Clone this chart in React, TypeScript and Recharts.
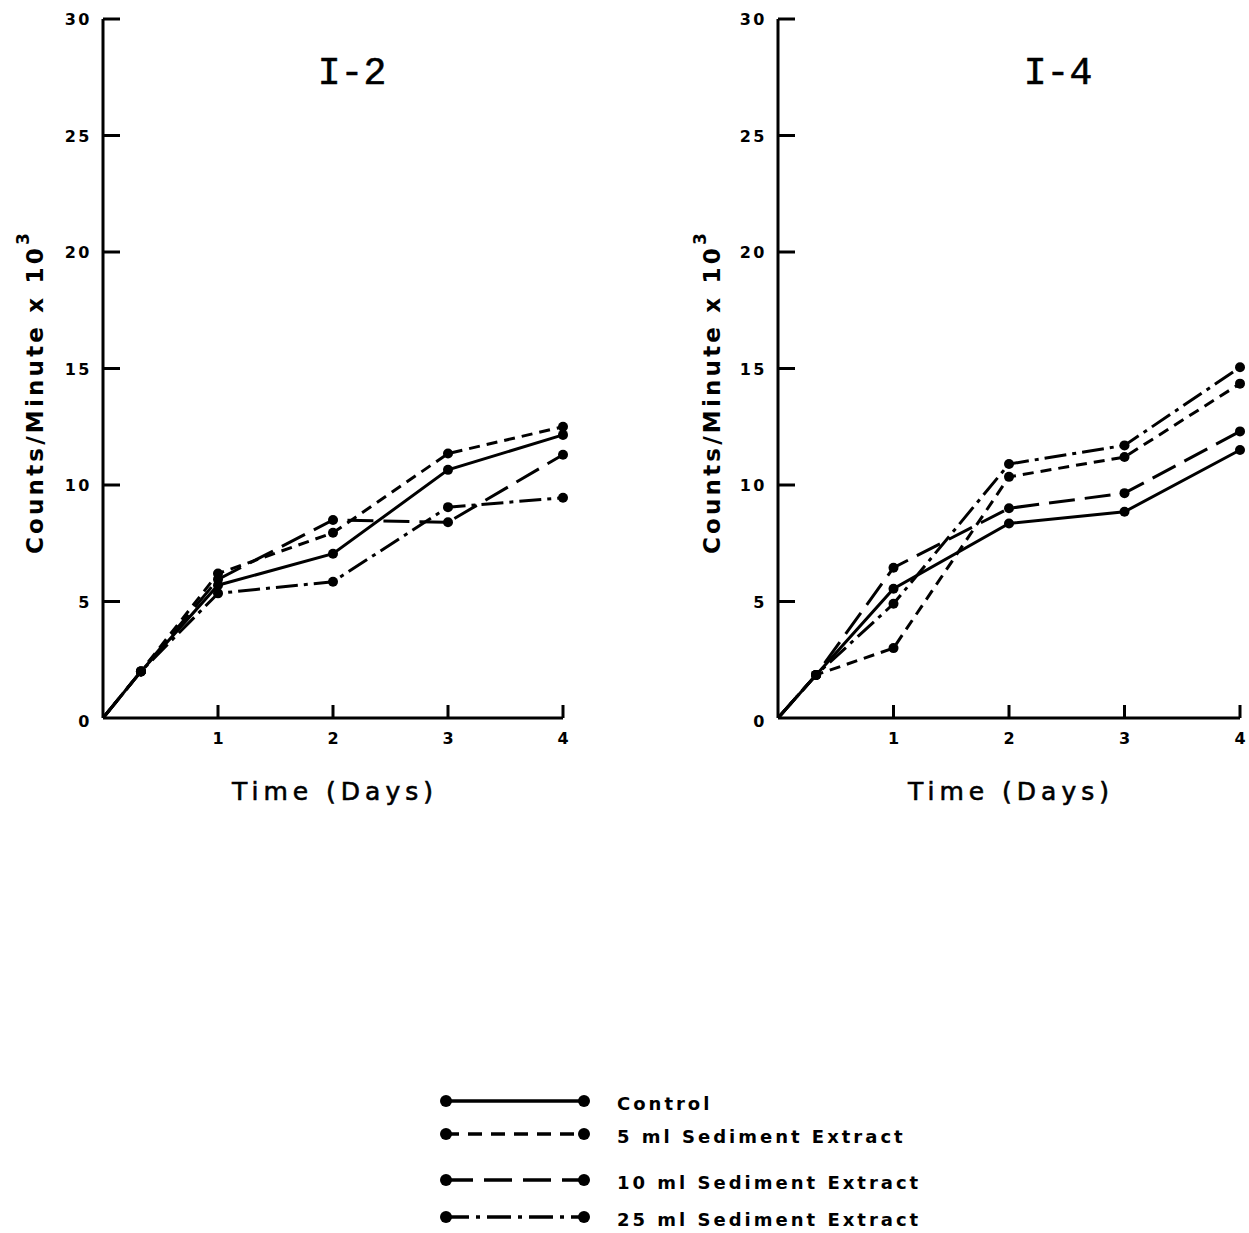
import React from 'react';
import { LineChart, Line, XAxis, YAxis } from 'recharts';

// time points (days); first is the origin, drawn without a marker
const days = [0, 0.33, 1, 2, 3, 4];
const dayTicks = [1, 2, 3, 4];
const countTicks = [0, 5, 10, 15, 20, 25, 30];

// I-2 (counts/minute x 10^3)
const i2Control = [0, 2.0, 5.7, 7.05, 10.65, 12.15];
const i2Sed5 = [0, 2.0, 6.2, 7.95, 11.35, 12.5];
const i2Sed10 = [0, 2.0, 5.95, 8.5, 8.4, 11.3];
const i2Sed25 = [0, 2.0, 5.35, 5.85, 9.05, 9.45];

// I-4
const i4Control = [0, 1.85, 5.55, 8.35, 8.85, 11.5];
const i4Sed5 = [0, 1.85, 3.0, 10.35, 11.2, 14.35];
const i4Sed10 = [0, 1.85, 6.45, 9.0, 9.65, 12.3];
const i4Sed25 = [0, 1.85, 4.9, 10.9, 11.7, 15.05];

const seriesNames = ['Control', '5 ml Sediment Extract', '10 ml Sediment Extract', '25 ml Sediment Extract'];
const seriesKeys = ['control', 'sed5', 'sed10', 'sed25'];
const seriesDash = [undefined, '11 7', '26 10', '22 6 4 6'];

const FONT = '"DejaVu Sans", sans-serif';

const buildRows = (control: number[], sed5: number[], sed10: number[], sed25: number[]) =>
  days.map((d, i) => ({ day: d, control: control[i], sed5: sed5[i], sed10: sed10[i], sed25: sed25[i] }));

const i2Rows = buildRows(i2Control, i2Sed5, i2Sed10, i2Sed25);
const i4Rows = buildRows(i4Control, i4Sed5, i4Sed10, i4Sed25);

const renderDot = (props: any) => {
  const { cx, cy, index } = props;
  if (index === 0) return <g key={`d-${index}`} />;
  return <circle key={`d-${index}`} cx={cx} cy={cy} r={5} fill="#000" />;
};

const YTick = (props: any) => {
  const { x, y, payload } = props;
  return (
    <g>
      {payload.value !== 0 && <line x1={x} x2={x + 17} y1={y} y2={y} stroke="#000" strokeWidth={3} />}
      <text x={x - 11} y={y + (payload.value === 0 ? 9 : 6)} textAnchor="end" fontFamily={FONT} fontWeight="bold" fontSize={16} letterSpacing={2.5} fill="#000">
        {payload.value}
      </text>
    </g>
  );
};

const XTick = (props: any) => {
  const { x, y, payload } = props;
  return (
    <g>
      <line x1={x} x2={x} y1={y} y2={y - 13} stroke="#000" strokeWidth={3} />
      <text x={x} y={y + 26} textAnchor="middle" fontFamily={FONT} fontWeight="bold" fontSize={16} fill="#000">
        {payload.value}
      </text>
    </g>
  );
};

interface PanelProps {
  title: string;
  rows: any[];
  left: number;
  width: number;
  rightPad: number;
  axisWidth: number;
  labelX: number;
  titleX: number;
}

const Panel: React.FC<PanelProps> = ({ title, rows, left, width, rightPad, axisWidth, labelX, titleX }) => {
  const xLabel = (p: any) => {
    const vb = p.viewBox;
    return (
      <text x={vb.x + vb.width / 2 + 2} y={vb.y + 82} textAnchor="middle" fontFamily={FONT} fontSize={25} letterSpacing={5} stroke="#000" strokeWidth={0.6} fill="#000">
        Time (Days)
      </text>
    );
  };
  const yLabel = () => {
    const cx = labelX;
    const cy = 392;
    return (
      <text x={cx} y={cy} transform={`rotate(-90, ${cx}, ${cy})`} textAnchor="middle" dominantBaseline="central" fontFamily={FONT} fontWeight="bold" fontSize={23} letterSpacing={3.2} fill="#000">
        Counts/Minute x 10<tspan dy={-12} fontSize={17}>3</tspan>
      </text>
    );
  };
  return (
    <div style={{ position: 'absolute', left, top: 0, width, height: 830 }}>
      <div style={{ position: 'absolute', left: titleX - 60, top: 52, width: 120, textAlign: 'center', fontFamily: '"Liberation Mono", monospace', fontSize: 38, color: '#000', WebkitTextStroke: '0.6px #000' }}>
        {title}
      </div>
      <LineChart width={width} height={830} data={rows} margin={{ top: 19, right: rightPad, bottom: 0, left: 0 }}>
        <XAxis
          type="number"
          dataKey="day"
          domain={[0, 4]}
          ticks={dayTicks}
          height={112}
          axisLine={{ stroke: '#000', strokeWidth: 3 }}
          tickLine={false}
          tickSize={0}
          tickMargin={0}
          tick={<XTick />}
          label={xLabel}
        />
        <YAxis
          type="number"
          domain={[0, 30]}
          ticks={countTicks}
          width={axisWidth}
          axisLine={{ stroke: '#000', strokeWidth: 3 }}
          tickLine={false}
          tickSize={0}
          tickMargin={0}
          tick={<YTick />}
          label={yLabel}
        />
        {seriesKeys.map((k, i) => (
          <Line
            key={k}
            type="linear"
            dataKey={k}
            name={seriesNames[i]}
            stroke="#000"
            strokeWidth={3}
            strokeDasharray={seriesDash[i]}
            dot={renderDot}
            activeDot={false}
            isAnimationActive={false}
          />
        ))}
      </LineChart>
    </div>
  );
};

const legendRows = [1101, 1134, 1180, 1217];
const legendDash = [undefined, '14 9', '28 11', '24 7 4 7'];

const LegendBlock: React.FC = () => (
  <svg style={{ position: 'absolute', left: 0, top: 1070 }} width={1249} height={163}>
    {seriesNames.map((name, i) => {
      const y = legendRows[i] - 1070;
      return (
        <g key={name}>
          <line x1={445} x2={585} y1={y} y2={y} stroke="#000" strokeWidth={3.5} strokeDasharray={legendDash[i]} />
          <circle cx={446} cy={y} r={6} fill="#000" />
          <circle cx={584} cy={y} r={6} fill="#000" />
          <text x={617} y={y + 9} fontFamily={FONT} fontWeight="bold" fontSize={18} letterSpacing={3} fill="#000">
            {name}
          </text>
        </g>
      );
    })}
  </svg>
);

const App: React.FC = () => (
  <div style={{ position: 'absolute', left: 0, top: 0, width: 1249, height: 1233, background: '#fff' }}>
    <Panel title="I-2" rows={i2Rows} left={0} width={600} rightPad={37} axisWidth={103} labelX={35} titleX={352} />
    <Panel title="I-4" rows={i4Rows} left={660} width={589} rightPad={9} axisWidth={118} labelX={52} titleX={398} />
    <LegendBlock />
  </div>
);

export default App;
